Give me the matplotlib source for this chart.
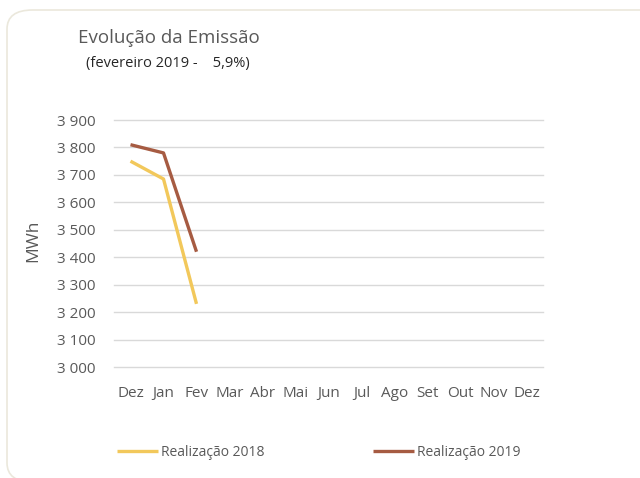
import matplotlib.pyplot as plt
from matplotlib.patches import FancyBboxPatch

months = ["Dez", "Jan", "Fev", "Mar", "Abr", "Mai", "Jun",
          "Jul", "Ago", "Set", "Out", "Nov", "Dez"]
real_2018 = [3750, 3685, 3230]
real_2019 = [3810, 3780, 3420]
y_ticks = [3000, 3100, 3200, 3300, 3400, 3500, 3600, 3700, 3800, 3900]

grey = "#595959"
plt.rcParams["font.family"] = ["Open Sans", "DejaVu Sans"]

fig = plt.figure(figsize=(6.4, 4.78), dpi=100)
W, H = 640, 478

# rounded card border, kept behind the axes
card = FancyBboxPatch((7 / W, 1 - 482 / H), 660 / W, 472 / H,
                      boxstyle="round,pad=0,rounding_size=0.04",
                      transform=fig.transFigure, facecolor="white",
                      edgecolor="#ebe8dc", linewidth=1.2, zorder=-10)
fig.patches.append(card)

ax = fig.add_axes([114 / W, 1 - 367 / H, (543 - 114) / W, (367 - 120) / H])
ax.patch.set_visible(False)
ax.set_zorder(1)

x = list(range(len(months)))
ax.plot(x[:len(real_2018)], real_2018, color="#F2C85B", lw=2.4,
        label="Realização 2018", solid_capstyle="butt")
ax.plot(x[:len(real_2019)], real_2019, color="#A65B42", lw=2.4,
        label="Realização 2019", solid_capstyle="butt")

ax.set_xlim(-0.5, len(months) - 0.5)
ax.set_ylim(3000, 3900)
ax.set_yticks(y_ticks)
ax.set_yticklabels([f"{v:,}".replace(",", " ") for v in y_ticks])
ax.set_xticks(x)
ax.set_xticklabels(months)
ax.tick_params(axis="y", length=0, pad=13, labelsize=11, labelcolor=grey)
ax.tick_params(axis="x", length=0, pad=14, labelsize=11, labelcolor=grey)
ax.grid(axis="y", color="#d9d9d9", lw=1)
for gl in ax.get_ygridlines():
    gl.set_clip_on(False)
ax.set_axisbelow(True)
for s in ax.spines.values():
    s.set_visible(False)

ax.set_ylabel("MWh", fontsize=12.5, color=grey)
ax.yaxis.set_label_coords(-73 / 429, 0.512)

fig.text(78 / W, 1 - 38 / H, "Evolução da Emissão", fontsize=13.5,
         color=grey, va="center", ha="left")
fig.text(86 / W, 1 - 64 / H, "(fevereiro 2019 -    5,9%)", fontsize=10.5,
         color="#262626", va="center", ha="left")

fig.legend(loc="center left", bbox_to_anchor=(104 / W, 1 - 452 / H),
           ncol=2, frameon=False, fontsize=10, handlelength=3,
           handletextpad=0.2, columnspacing=7.8, labelcolor=grey)

fig.savefig("out.png", dpi=100)
